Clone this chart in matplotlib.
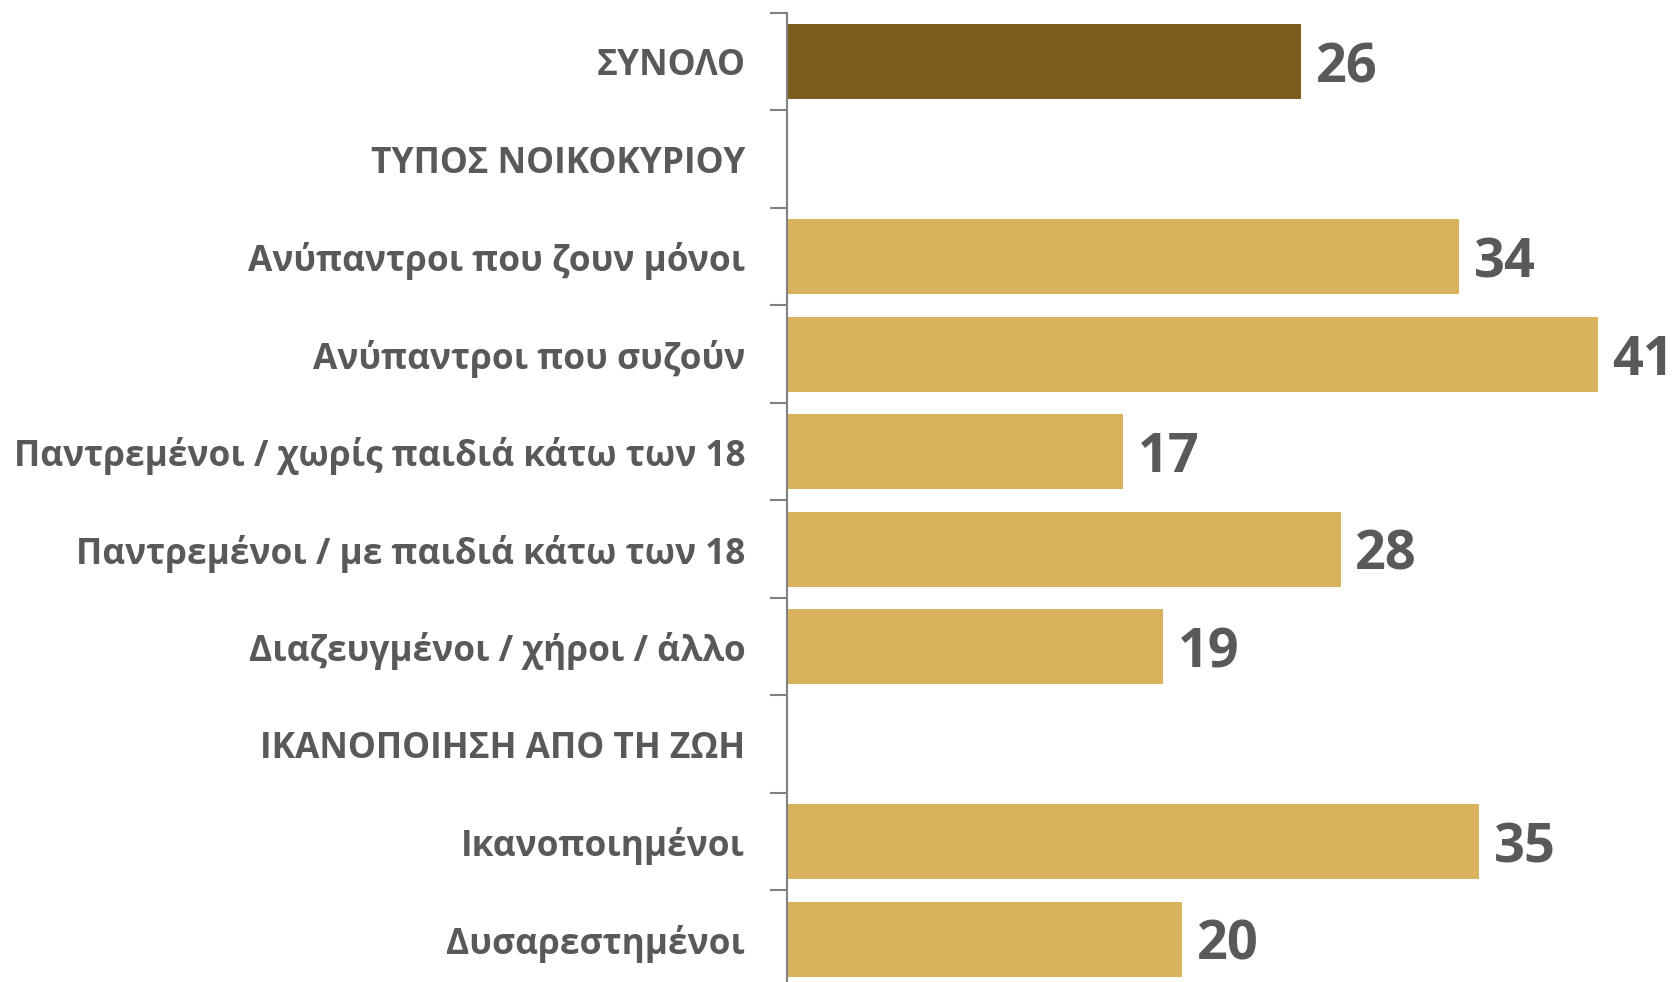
import matplotlib.pyplot as plt
import numpy as np

# Rows of the chart, top to bottom (section headers have no value)
categories = [
    "ΣΥΝΟΛΟ",
    "ΤΥΠΟΣ ΝΟΙΚΟΚΥΡΙΟΥ",
    "Ανύπαντροι που ζουν μόνοι",
    "Ανύπαντροι που συζούν",
    "Παντρεμένοι / χωρίς παιδιά κάτω των 18",
    "Παντρεμένοι / με παιδιά κάτω των 18",
    "Διαζευγμένοι / χήροι / άλλο",
    "ΙΚΑΝΟΠΟΙΗΣΗ ΑΠΟ ΤΗ ΖΩΗ",
    "Ικανοποιημένοι",
    "Δυσαρεστημένοι",
]
values = [26, None, 34, 41, 17, 28, 19, None, 35, 20]

text_color = "#595959"
total_color = "#7B5C1E"
bar_color = "#D9B25E"

fig = plt.figure(figsize=(16.74, 9.82), dpi=100)
ax = fig.add_axes([787 / 1674, 1 - 988 / 982, 870 / 1674, 975 / 982])

y = np.arange(len(categories))
for i, v in enumerate(values):
    if v is None:
        continue
    col = total_color if i == 0 else bar_color
    ax.barh(y[i], v, height=0.77, color=col, edgecolor="none")
    ax.text(v + 0.75, y[i] + 0.21, str(v), va="baseline", ha="left",
            fontsize=39, fontweight="bold", color=text_color,
            family=["Liberation Sans Narrow", "Open Sans"])

ax.set_xlim(0, 44)
ax.set_ylim(len(categories) - 0.5, -0.5)

ax.set_yticks(y)
ax.set_yticklabels(categories, fontsize=25.4, fontweight="bold",
                   color=text_color, family="Open Sans")
ax.tick_params(axis="y", which="major", length=0, pad=30)
ax.set_yticks(np.arange(-0.5, len(categories), 1), minor=True)
ax.tick_params(axis="y", which="minor", length=12, width=1.5, color="#808080")
ax.set_xticks([])

for s in ["top", "right", "bottom"]:
    ax.spines[s].set_visible(False)
ax.spines["left"].set_color("#808080")
ax.spines["left"].set_linewidth(1.5)

fig.savefig("out.png", dpi=100)
